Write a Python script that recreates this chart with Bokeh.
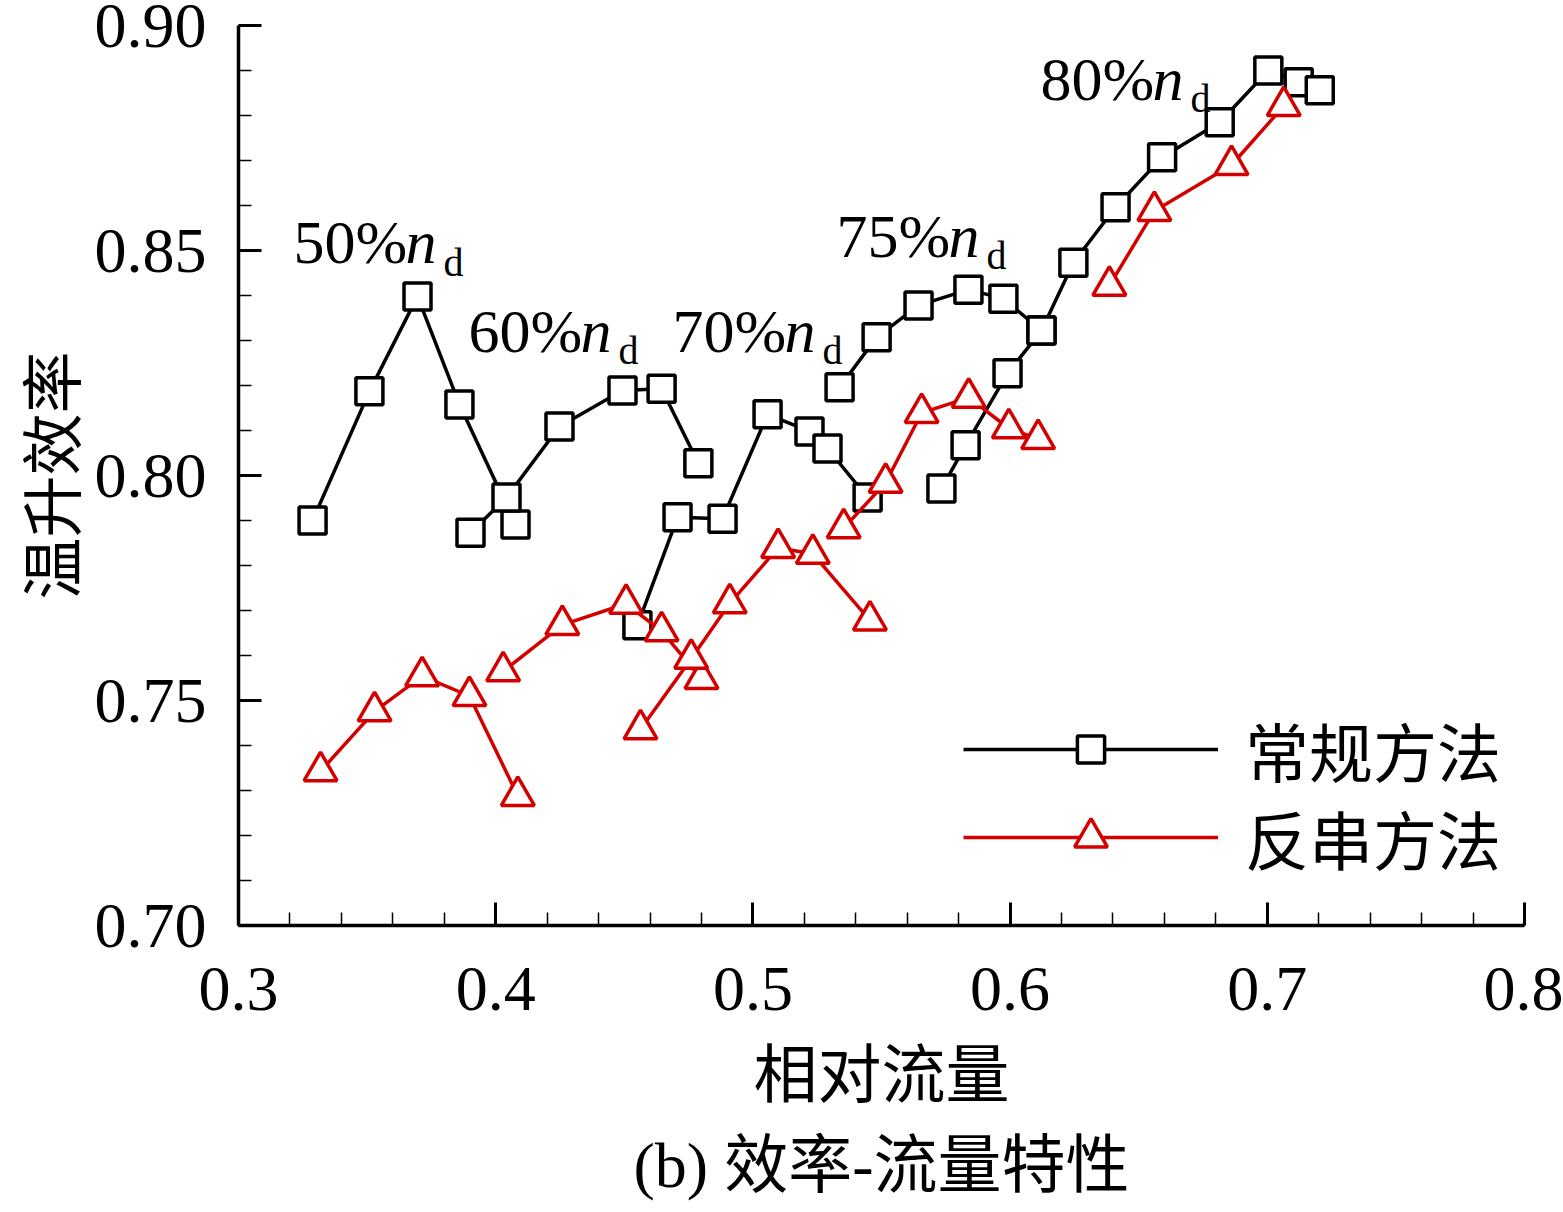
import numpy as np
from bokeh.plotting import figure
from bokeh.models import (Range1d, FixedTicker, PrintfTickFormatter, Legend,
                          LegendItem, Label, Title)
from bokeh.embed import file_html
from bokeh.resources import INLINE

# ---------------- data ----------------
speed_labels = ["50%", "60%", "70%", "75%", "80%"]

# conventional method (black squares)
conv_x_50 = [0.3288, 0.3509, 0.3696, 0.3859, 0.4077]
conv_y_50 = [0.7900, 0.8187, 0.8398, 0.8158, 0.7891]
conv_x_60 = [0.3902, 0.4042, 0.4248, 0.4493, 0.4645, 0.4788]
conv_y_60 = [0.7873, 0.7951, 0.8109, 0.8189, 0.8193, 0.8027]
conv_x_70 = [0.4551, 0.4707, 0.4882, 0.5057, 0.5220, 0.5290, 0.5446]
conv_y_70 = [0.7667, 0.7907, 0.7904, 0.8136, 0.8098, 0.8060, 0.7951]
conv_x_75 = [0.5337, 0.5481, 0.5644, 0.5838, 0.5974, 0.6122]
conv_y_75 = [0.8196, 0.8307, 0.8378, 0.8413, 0.8393, 0.8322]
conv_x_80 = [0.5733, 0.5827, 0.5990, 0.6122, 0.6246, 0.6410, 0.6591, 0.6815, 0.7004, 0.7122, 0.7204]
conv_y_80 = [0.7971, 0.8067, 0.8227, 0.8322, 0.8473, 0.8596, 0.8707, 0.8785, 0.8900, 0.8874, 0.8856]

# inverse method (red triangles)
inv_x_50 = [0.3319, 0.3529, 0.3714, 0.3898, 0.4086]
inv_y_50 = [0.7343, 0.7476, 0.7554, 0.7510, 0.7288]
inv_x_60 = [0.4029, 0.4259, 0.4507, 0.4645, 0.4800]
inv_y_60 = [0.7565, 0.7668, 0.7715, 0.7654, 0.7548]
inv_x_70 = [0.4563, 0.4760, 0.4910, 0.5098, 0.5233, 0.5455]
inv_y_70 = [0.7436, 0.7593, 0.7716, 0.7839, 0.7826, 0.7678]
inv_x_75 = [0.5353, 0.5516, 0.5656, 0.5839, 0.5995, 0.6109]
inv_y_75 = [0.7883, 0.7984, 0.8139, 0.8173, 0.8105, 0.8081]
inv_x_80 = [0.6386, 0.6561, 0.6861, 0.7064]
inv_y_80 = [0.8422, 0.8588, 0.8690, 0.8821]

# speed-line annotation anchors (data coords)
label_x = [0.3214, 0.3894, 0.4687, 0.5325, 0.6118]
label_y = [0.8518, 0.8322, 0.8322, 0.8533, 0.8882]

x_ticks = [0.3, 0.4, 0.5, 0.6, 0.7, 0.8]
y_ticks = [0.70, 0.75, 0.80, 0.85, 0.90]

x_title = "相对流量"
y_title = "温升效率"
caption_text = "(b) 效率-流量特性"
legend_names = ["常规方法", "反串方法"]

conv_series = [(conv_x_50, conv_y_50), (conv_x_60, conv_y_60), (conv_x_70, conv_y_70),
               (conv_x_75, conv_y_75), (conv_x_80, conv_y_80)]
inv_series = [(inv_x_50, inv_y_50), (inv_x_60, inv_y_60), (inv_x_70, inv_y_70),
              (inv_x_75, inv_y_75), (inv_x_80, inv_y_80)]

BLACK = "#000000"
RED = "#d40000"
SERIF = "Liberation Serif"
CJK = "Noto Sans CJK SC"

p = figure(width=1563, height=1212, x_range=Range1d(0.3, 0.8), y_range=Range1d(0.70, 0.90),
           output_backend="svg", toolbar_location=None,
           min_border_left=238, min_border_right=39, min_border_top=25, min_border_bottom=287)
p.outline_line_color = None
p.grid.visible = False
p.background_fill_color = "white"
p.border_fill_color = "white"

minor_x = [round(v, 3) for v in np.arange(0.30, 0.8001, 0.02)]
minor_y = [round(v, 3) for v in np.arange(0.70, 0.9001, 0.01)]
p.xaxis.ticker = FixedTicker(ticks=x_ticks, minor_ticks=minor_x)
p.yaxis.ticker = FixedTicker(ticks=y_ticks, minor_ticks=minor_y)
p.xaxis.formatter = PrintfTickFormatter(format="%.1f")
p.yaxis.formatter = PrintfTickFormatter(format="%.2f")

for ax in (p.xaxis, p.yaxis):
    ax.axis_line_width = 3.5
    ax.axis_line_color = BLACK
    ax.major_tick_line_width = 3
    ax.minor_tick_line_width = 1.5
    ax.major_tick_in = 23
    ax.major_tick_out = 0
    ax.minor_tick_in = 13
    ax.minor_tick_out = 0
    ax.major_label_text_font = SERIF
    ax.major_label_text_font_size = "64px"
    ax.major_label_text_color = BLACK
    ax.axis_label_text_font = CJK
    ax.axis_label_text_font_style = "normal"
    ax.axis_label_text_color = BLACK

p.xaxis.axis_label_text_font_size = "64px"
p.yaxis.axis_label_text_font_size = "62px"
p.xaxis.major_label_standoff = 42
p.yaxis.major_label_standoff = 32
p.xaxis.axis_label = x_title
p.xaxis.axis_label_standoff = 10
p.yaxis.axis_label = y_title
p.yaxis.axis_label_standoff = -2

conv_lines, conv_marks, inv_lines, inv_marks = [], [], [], []
for xs, ys in conv_series:
    conv_lines.append(p.line(xs, ys, line_color=BLACK, line_width=3.5))
    conv_marks.append(p.scatter(xs, ys, marker="square", size=27, line_color=BLACK,
                                line_width=3.5, fill_color="white"))
for xs, ys in inv_series:
    inv_lines.append(p.line(xs, ys, line_color=RED, line_width=3.5))
    inv_marks.append(p.scatter(xs, ys, marker="triangle", size=33, line_color=RED,
                               line_width=3.5, fill_color="white"))

for s, lx, ly in zip(speed_labels, label_x, label_y):
    p.add_layout(Label(x=lx, y=ly, text=s, text_font=SERIF, text_font_size="62px",
                       text_align="left", text_baseline="alphabetic", text_color=BLACK))
    p.add_layout(Label(x=lx, y=ly, x_offset=112, text="n", text_font=SERIF,
                       text_font_style="italic", text_font_size="62px",
                       text_align="left", text_baseline="alphabetic", text_color=BLACK))
    p.add_layout(Label(x=lx, y=ly, x_offset=150, y_offset=-20, text="d", text_font=SERIF,
                       text_font_size="40px", text_align="left", text_baseline="alphabetic",
                       text_color=BLACK))

common = dict(glyph_width=255, label_standoff=27, padding=0, margin=0, spacing=0,
              border_line_alpha=0, background_fill_alpha=0,
              label_text_font=CJK, label_text_font_size="64px", label_text_color=BLACK)
legA = Legend(items=[LegendItem(label=legend_names[0], renderers=[conv_lines[0], conv_marks[0]])],
              location=(725, 130), glyph_height=68, **common)
legB = Legend(items=[LegendItem(label=legend_names[1], renderers=[inv_lines[0], inv_marks[0]])],
              location=(725, 42), glyph_height=82, **common)
p.add_layout(legA, "center")
p.add_layout(legB, "center")

# caption below the x-axis title
caption = Title(text=caption_text, align="center", standoff=21,
                text_font=SERIF + ", " + CJK, text_font_size="64px",
                text_font_style="normal", text_color=BLACK)
p.add_layout(caption, "below")

open("out.html", "w").write(file_html(p, INLINE))
